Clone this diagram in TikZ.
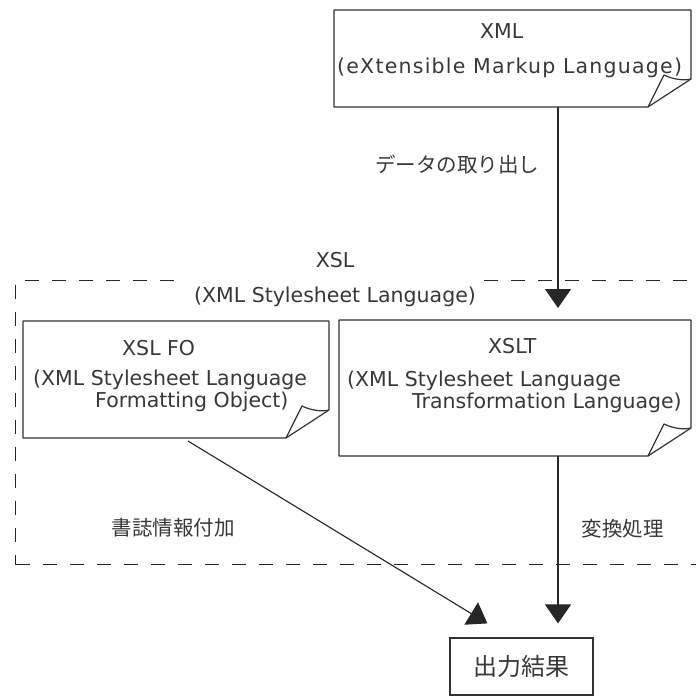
\documentclass[tikz,border=0pt]{standalone}
\usepackage{fontspec}
\setmainfont{DejaVu Sans}
\newfontfamily\jp{Noto Sans CJK JP}
\usetikzlibrary{positioning, calc}
\usetikzlibrary{arrows.meta}

% document outline with a curled corner
\newcommand{\docframe}[1]{%
  \draw[docline] (#1.north west) -- (#1.north east) -- ([yshift=28pt]#1.south east)
    -- ([xshift=-43pt]#1.south east) -- (#1.south west) -- cycle;
  \draw[docline] ([xshift=-43pt]#1.south east) -- ++(16,-32)
    .. controls +(8,4) and +(-8,2) .. ([yshift=28pt]#1.south east);
}

\begin{document}
\begin{tikzpicture}[x=1pt, y=-1pt,
    docbox/.style={inner sep=0, outer sep=0},
    docline/.style={draw=black!80, line width=1.2pt, line join=round},
    doctext/.style={inner sep=0, align=left, text=black!78, font=\fontsize{20.5}{22}\selectfont},
    lab/.style={inner sep=0, text=black!78, font=\jp\fontsize{20.5}{22}\selectfont},
    flow/.style={-{Triangle[width=26pt, length=19pt]}, line width=1.1pt, draw=black!85, fill=black!85},
    xslarea/.style={draw=black!85, line width=1.1pt, dash pattern=on 14pt off 13pt, inner sep=0}]

    \useasboundingbox (0,0) rectangle (696,696);
    \clip (0,0) rectangle (696,696);

    % XSL region
    \node[xslarea, anchor=north west, minimum width=720pt, minimum height=284pt] (xsl) at (15,280) {};
    \node[doctext, align=center, fill=white, inner xsep=7pt] (xsltitle) at (335,279.5) {XSL\\[13pt](XML Stylesheet Language)};

    % Define nodes
    \node[docbox, minimum width=357pt, minimum height=97pt] (xml) at (512.5,58.5) {};
    \node[docbox, minimum width=306pt, minimum height=117pt] (fo) at (176,379.5) {};
    \node[docbox, minimum width=352pt, minimum height=136pt] (xslt) at (515,388) {};
    \node[draw=black!80, line width=1.2pt, minimum width=143pt, minimum height=57pt, inner sep=0,
          text=black!78, font=\jp\fontsize{24}{26}\selectfont] (out) at (521.5,666.5) {出力結果};

    \docframe{xml}
    \docframe{fo}
    \docframe{xslt}

    \node[doctext, anchor=north west] (xmltext) at ([xshift=3pt, yshift=-13pt]xml.north west)
        {\hspace*{143pt}XML\\[13pt]{\addfontfeature{LetterSpace=6}(eXtensible Markup Language)}};
    \node[doctext, anchor=north west] (fotext) at ([xshift=10pt, yshift=-19pt]fo.north west)
        {\hspace*{89pt}XSL FO\\[8pt](XML Stylesheet Language\\\hspace*{62pt}Formatting Object)};
    \node[doctext, anchor=north west] (xslttext) at ([xshift=8pt, yshift=-18pt]xslt.north west)
        {\hspace*{141pt}XSLT\\[11pt](XML Stylesheet Language\\\hspace*{65pt}Transformation Language)};

    % Draw edges with arrows
    \coordinate (spine) at (558,0);
    \draw[flow, shorten >=12pt] (xml.south -| spine) -- (xslt.north -| spine)
        node[lab, pos=0.27, left=18pt] (extract) {データの取り出し};
    \draw[flow, shorten >=14pt] (xslt.south -| spine) -- (out.north -| spine)
        node[lab, pos=0.4, right=23pt] (transform) {変換処理};
    \draw[flow] ([xshift=12pt, yshift=-3pt]fo.south) -- ([xshift=38pt, yshift=14pt]out.north west)
        node[lab, pos=0.475, left=95pt] (biblio) {書誌情報付加};

\end{tikzpicture}
\end{document}
